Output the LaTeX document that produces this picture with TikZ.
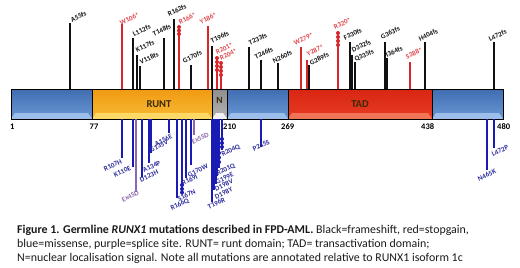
\documentclass[tikz,border=0pt]{standalone}
\usepackage{fontspec}
\setmainfont{Carlito}
\definecolor{fsC}{HTML}{111111}
\definecolor{fsL}{HTML}{111111}
\definecolor{sgC}{HTML}{D8262A}
\definecolor{sgL}{HTML}{E0474C}
\definecolor{msC}{HTML}{1A1AB5}
\definecolor{msL}{HTML}{2B2B9E}
\definecolor{spC}{HTML}{8A68B5}
\definecolor{spL}{HTML}{8A6AAE}
\definecolor{blueT}{HTML}{3F6DB0}
\definecolor{blueB}{HTML}{6A98D6}
\definecolor{blueV}{HTML}{9CBEEA}
\definecolor{runtT}{HTML}{F09A12}
\definecolor{runtB}{HTML}{F8BA35}
\definecolor{runtV}{HTML}{FFD966}
\definecolor{tadT}{HTML}{D82612}
\definecolor{tadB}{HTML}{E83C22}
\definecolor{tadV}{HTML}{F27458}
\definecolor{nT}{HTML}{8E8E8E}
\definecolor{nB}{HTML}{B4B4B4}
\definecolor{nV}{HTML}{F2F2F2}
\definecolor{domtext}{HTML}{3A2A08}
\definecolor{captext}{HTML}{1A1A1A}
\tikzset{
  mutline/.style={line width=1.6pt},
  mlab/.style={font=\bfseries\fontsize{7}{8}\selectfont, rotate=25, inner sep=0.3pt, anchor=south west},
  numlab/.style={font=\bfseries\fontsize{8.5}{9}\selectfont, inner sep=0pt, anchor=west, text=black},
  domlab/.style={font=\bfseries\fontsize{10.5}{12}\selectfont, inner sep=0pt, text=domtext},
  caplab/.style={font=\fontsize{11.9}{14}\selectfont, inner sep=0pt, anchor=base west, text=captext},
  dotS/.style={fill=sgC},
  dotM/.style={fill=msC}
}
\begin{document}
\begin{tikzpicture}[x=1pt,y=-1pt]
\useasboundingbox (0,0) rectangle (520,268);
\fill[white] (0,0) rectangle (520,268);
% bar segments
\foreach \a/\b/\t/\m/\v in {11/92/blueT/blueB/blueV, 92/212/runtT/runtB/runtV, 212/227/nT/nB/nV, 227/288/blueT/blueB/blueV, 288/432/tadT/tadB/tadV, 432/503/blueT/blueB/blueV}{
  \shade[top color=\t, bottom color=\m] (\a,89) rectangle (\b,119);
  \fill[\v] (\a,119) -- (\a+4,113) -- (\b-4,113) -- (\b,119) -- cycle;
  \draw[black, line width=0.8pt] (\a,89) rectangle (\b,119);
}
\node[domlab] (runt) at (159,104) {RUNT};
\node[domlab, font=\bfseries\fontsize{9.5}{11}\selectfont] (nls) at (219.5,100) {N};
\node[domlab] (tad) at (360,104) {TAD};
% position numbers
\node[numlab] (p1) at (10,126.5) {1};
\node[numlab] (p77) at (89.5,126.5) {77};
\node[numlab] (p210) at (223,126.5) {210};
\node[numlab] (p269) at (281,126.5) {269};
\node[numlab] (p438) at (421,126.5) {438};
\node[numlab] (p480) at (497,126.5) {480};
% top mutations
\foreach \n/\x/\y/\col/\lx/\ly/\t in {
 a55/70/23/fs/72/23/A55fs, w106/122/24/sg/121/26/W106*, l112/133/38/fs/134/37/L112fs,
 k117/137/55/fs/137/53/K117fs, v118/140/66/fs/141/65/V118fs, t148/164/38/fs/154/37/T148fs,
 r162/174/19/fs/169/17/R162fs, r166/179/27/sg/180/25/R166*, g170/191/65/fs/184/64/G170fs,
 y186/208/26/sg/201/25/Y186*, t196/212/46/fs/212/44/T196fs, r201/217/57/sg/217/55/R201*,
 r204/221/62/sg/221/61/R204*, t233/249/47/fs/250/46/T233fs, t246/261/60/fs/256/60/T246fs,
 n260/278/63/fs/274/64/N260fs, w279/301/47/sg/295/46/W279*, y287/307/60/sg/308/57/Y287*,
 g289/309/65/fs/311/66/G289fs, r320/338/32/sg/335/30/R320*, f330/350/42/fs/345/41/F330fs,
 d332/352/55/fs/353/53/D332fs, q335/355/62/fs/356/63/Q335fs, g363/385/42/fs/382/40/G363fs,
 i364/387/58/fs/387/58/I364fs, s388/410/62/sg/407/60/S388*, h404/425/42/fs/420/42/H404fs,
 l472/494/42/fs/490/42/L472fs}{
  \coordinate (\n b) at (\x,89);
  \coordinate (\n t) at (\x,\y);
  \draw[mutline, draw=\col C] (\n b) -- (\n t);
  \node[mlab, text=\col L] (\n l) at (\lx,\ly) {\t};
}
% bottom mutations
\foreach \n/\x/\y/\col/\lx/\ly/\t in {
 r107/122/158/ms/105/172/R107H, k110/133/167/ms/115/178/K110E, ex4/136/192/sp/123/203/Ex4SD,
 d123/142/177/ms/141/183/D123H, a134/149/163/ms/144/173/A134P, g135/151/153/ms/151/153/G135V,
 a156/169/133/ms/156/147/A156E, r166q/177/198/ms/172/212/R166Q, s167/182/192/ms/179/202/S167N,
 r169/186/178/ms/183/186/R169I, g170w/191/165/ms/189/178/G170W, ex5/194/135/sp/193/145/Ex5SD,
 t196r/212/202/ms/209/210/T196R, d198y/214/190/ms/216/200/D198Y, d198v/216/184/ms/216/192/D198V,
 g199/217/176/ms/217/185/G199E, r201q/219/168/ms/218/177/R201Q, r204q/222/150/ms/223/158/R204Q,
 p245/261/147/ms/254/152/P245S, n465/487/170/ms/479/182/N465K, l472p/494/148/ms/493/157/L472P}{
  \coordinate (\n b) at (\x,119);
  \coordinate (\n t) at (\x,\y);
  \draw[mutline, draw=\col C] (\n b) -- (\n t);
  \node[mlab, text=\col L] (\n l) at (\lx,\ly) {\t};
}
% recurrence dots
\foreach \x/\y in {179/27, 179/30.5, 179/34, 217/58, 217/62, 217/66, 217/70, 221/63, 221/67, 221/71, 221/75, 338/33, 338/37, 338/41, 338/45}{
  \fill[dotS] (\x,\y) circle (2);
}
\foreach \x/\y in {182/185, 182/189, 182/192.5, 219/153, 219/157.5, 219/162, 222/139, 222/143, 222/147}{
  \fill[dotM] (\x,\y) circle (2);
}
% caption
\node[caplab] (cap1) at (17,233) {\textbf{Figure 1. Germline \textit{RUNX1} mutations described in FPD-AML.} Black=frameshift, red=stopgain,};
\node[caplab] (cap2) at (17,247) {blue=missense, purple=splice site. RUNT= runt domain; TAD= transactivation domain;};
\node[caplab] (cap3) at (17,261) {N=nuclear localisation signal. Note all mutations are annotated relative to RUNX1 isoform 1c};
\end{tikzpicture}
\end{document}
